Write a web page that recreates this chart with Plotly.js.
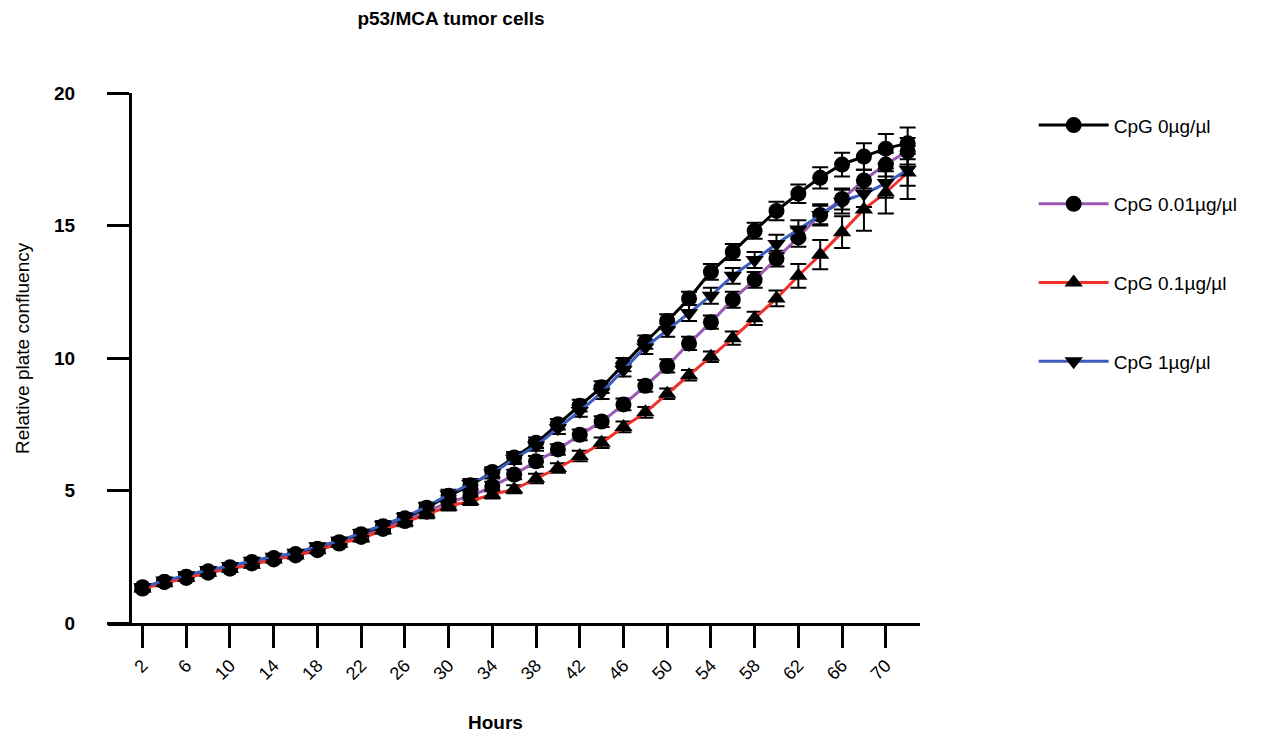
<!DOCTYPE html>
<html><head><meta charset="utf-8">
<script src="https://cdn.plot.ly/plotly-3.0.1.min.js"></script>
<style>html,body{margin:0;padding:0;background:#fff}#chart{width:1270px;height:736px}</style>
</head><body><div id="chart"></div>
<script>
const hours = [2,4,6,8,10,12,14,16,18,20,22,24,26,28,30,32,34,36,38,40,42,44,46,48,50,52,54,56,58,60,62,64,66,68,70,72];
const tickHours = [2,6,10,14,18,22,26,30,34,38,42,46,50,54,58,62,66,70];
const yTicks = [0,5,10,15,20];
const seriesNames = ["CpG 0µg/µl","CpG 0.01µg/µl","CpG 0.1µg/µl","CpG 1µg/µl"];

const cpg0 = [1.35,1.55,1.75,1.95,2.1,2.3,2.45,2.6,2.8,3.05,3.35,3.65,3.95,4.35,4.8,5.2,5.7,6.25,6.8,7.5,8.2,8.9,9.75,10.6,11.4,12.25,13.25,14.0,14.8,15.55,16.2,16.8,17.3,17.6,17.9,18.1];
const cpg0Err = [0.1,0.1,0.1,0.1,0.1,0.1,0.1,0.1,0.1,0.12,0.12,0.15,0.15,0.15,0.15,0.18,0.18,0.2,0.2,0.2,0.22,0.22,0.25,0.25,0.25,0.25,0.3,0.3,0.3,0.35,0.35,0.4,0.45,0.5,0.55,0.6];

const cpg001 = [1.3,1.55,1.7,1.9,2.05,2.25,2.4,2.55,2.75,3.0,3.25,3.55,3.85,4.2,4.55,4.8,5.15,5.6,6.1,6.55,7.1,7.6,8.25,8.95,9.7,10.55,11.35,12.2,12.95,13.75,14.55,15.4,16.0,16.7,17.3,17.8];
const cpg001Err = [0.1,0.1,0.1,0.1,0.1,0.1,0.1,0.1,0.1,0.12,0.12,0.12,0.15,0.15,0.15,0.15,0.18,0.18,0.2,0.2,0.2,0.2,0.22,0.22,0.25,0.25,0.25,0.3,0.3,0.3,0.35,0.35,0.4,0.4,0.45,0.5];

const cpg01 = [1.3,1.5,1.7,1.9,2.05,2.2,2.4,2.55,2.75,3.0,3.2,3.5,3.8,4.1,4.4,4.6,4.85,5.05,5.45,5.85,6.3,6.8,7.4,7.95,8.65,9.35,10.05,10.75,11.5,12.25,13.1,13.9,14.75,15.6,16.25,17.0];
const cpg01Err = [0.1,0.1,0.1,0.1,0.1,0.1,0.1,0.1,0.1,0.12,0.12,0.12,0.15,0.15,0.15,0.15,0.15,0.15,0.18,0.18,0.2,0.2,0.2,0.2,0.2,0.2,0.2,0.25,0.25,0.3,0.45,0.55,0.6,0.8,0.8,1.0];

const cpg1 = [1.35,1.6,1.8,2.0,2.15,2.35,2.5,2.65,2.9,3.1,3.4,3.7,4.0,4.4,4.85,5.25,5.65,6.2,6.7,7.35,8.0,8.7,9.55,10.4,11.05,11.7,12.35,13.1,13.7,14.3,14.85,15.4,15.9,16.2,16.6,17.1];
const cpg1Err = [0.1,0.1,0.1,0.1,0.1,0.1,0.1,0.1,0.1,0.12,0.12,0.15,0.15,0.15,0.18,0.18,0.2,0.2,0.2,0.22,0.22,0.25,0.25,0.25,0.25,0.3,0.3,0.3,0.3,0.35,0.35,0.4,0.45,0.5,0.55,0.6];

const lineColors = ["#000000","#9b59b6","#f2302a","#3b5dbd"];
const symbols = ["circle","circle","triangle-up","triangle-down"];
const ys = [cpg0, cpg001, cpg01, cpg1];
const errs = [cpg0Err, cpg001Err, cpg01Err, cpg1Err];

const traces = ys.map((y, i) => ({
  type: "scatter",
  mode: "lines+markers",
  x: hours,
  y: y,
  name: seriesNames[i],
  legendgroup: "g" + i,
  line: {color: lineColors[i], width: 3, shape: "spline", smoothing: 0.6},
  marker: {symbol: symbols[i], color: "#000000", size: 16},
  error_y: {type: "data", array: errs[i], visible: true, color: "#000000", thickness: 2, width: 8},
  cliponaxis: false
}));

const layout = {
  width: 1270, height: 736,
  paper_bgcolor: "#ffffff", plot_bgcolor: "#ffffff",
  font: {family: "Liberation Sans, Arial, sans-serif", color: "#000000", size: 19},
  margin: {l: 108, r: 350, t: 93, b: 113},
  title: {text: "p53/MCA tumor cells", x: 451/1270, xref: "container", xanchor: "center",
          y: 1 - 18/736, yref: "container", yanchor: "middle",
          font: {size: 19, weight: "bold", family: "Liberation Sans, Arial, sans-serif"}},
  xaxis: {
    range: [-1.16, 73.13], showgrid: false, zeroline: false,
    showline: true, linewidth: 3, linecolor: "#000000",
    ticks: "outside", ticklen: 22, tickwidth: 3, tickcolor: "#000000",
    tickvals: tickHours, ticktext: tickHours.map(String), tickangle: -45,
    tickfont: {size: 18}, ticklabelstandoff: 0
  },
  yaxis: {
    range: [0, 20], anchor: "free", position: 22/812, showgrid: false, zeroline: false,
    showline: true, linewidth: 3, linecolor: "#000000",
    ticks: "outside", ticklen: 22, tickwidth: 3, tickcolor: "#000000",
    tickvals: yTicks, ticktext: yTicks.map(String),
    tickfont: {size: 19, weight: "bold"}, ticklabelstandoff: 28
  },
  showlegend: true,
  legend: {x: 1.14, xanchor: "left", y: 0.975, yanchor: "top", tracegroupgap: 51,
           itemwidth: 70, font: {size: 19}, bgcolor: "rgba(0,0,0,0)"},
  annotations: [
    {text: "Hours", xref: "paper", yref: "paper", x: (495-108)/812, y: (623-722)/530,
     xanchor: "center", yanchor: "middle", showarrow: false, font: {size: 19, weight: "bold"}},
    {text: "Relative plate confluency", xref: "paper", yref: "paper", x: (22-108)/812, y: (623-348)/530,
     xanchor: "center", yanchor: "middle", textangle: -90, showarrow: false, font: {size: 19}}
  ]
};

Plotly.newPlot("chart", traces, layout, {displayModeBar: false, staticPlot: true});
</script>
</body></html>
